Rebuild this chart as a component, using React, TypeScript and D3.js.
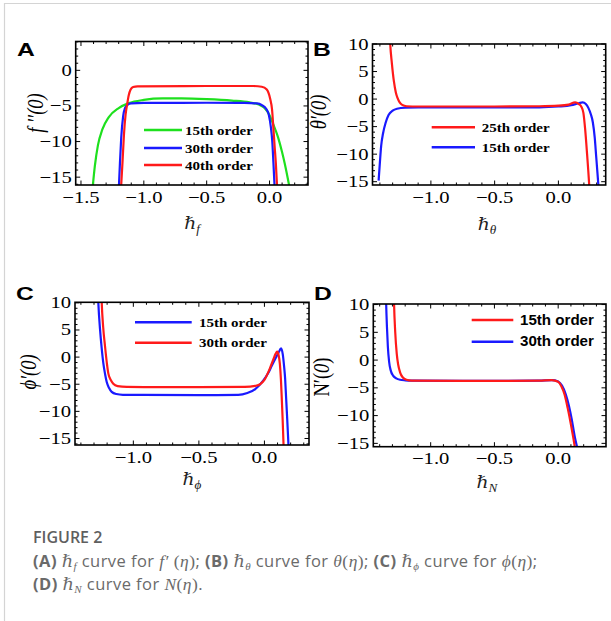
import React from "react";
import * as d3 from "d3";

const W = 611;
const H = 621;
const SX = 1.25;
const SERIF = "'Liberation Serif', 'DejaVu Serif', serif";
const SANS = "'Liberation Sans', Arial, sans-serif";

type Pt = [number, number];

// ---------- Panel A ----------
const xTicksA = [-1.5, -1.0, -0.5, 0.0];
const xTickLabelsA = ["−1.5", "−1.0", "−0.5", "0.0"];
const yTicksA = [0, -5, -10, -15];
const yTickLabelsA = ["0", "−5", "−10", "−15"];
const legendA = ["15th order", "30th order", "40th order"];
const curveA15: Pt[] = [
  [-1.41, -17], [-1.39, -13.5], [-1.365, -10.5], [-1.33, -8.3], [-1.28, -6.6], [-1.2, -5.3],
  [-1.12, -4.6], [-1.0, -4.15], [-0.85, -3.95], [-0.7, -3.95], [-0.5, -4.05], [-0.3, -4.25],
  [-0.16, -4.5], [-0.08, -4.85], [-0.04, -5.3], [0.0, -6.3], [0.03, -7.6], [0.066, -9.3],
  [0.1, -11.5], [0.12, -13], [0.165, -17],
];
const curveA30: Pt[] = [
  [-1.2, -17], [-1.19, -13], [-1.18, -9.5], [-1.165, -6.5], [-1.15, -5.3], [-1.13, -4.85],
  [-1.1, -4.65], [-1.0, -4.58], [-0.5, -4.55], [-0.2, -4.58], [-0.1, -4.65], [-0.06, -4.9],
  [-0.027, -5.4], [-0.005, -6.3], [0.01, -7.9], [0.022, -10], [0.031, -13], [0.042, -17],
];
const curveA40: Pt[] = [
  [-1.183, -17], [-1.17, -13], [-1.158, -9], [-1.145, -6.2], [-1.133, -4.8], [-1.12, -3.5],
  [-1.105, -2.7], [-1.085, -2.35], [-1.05, -2.25], [-0.5, -2.2], [-0.13, -2.2], [-0.062, -2.3],
  [-0.022, -2.7], [0.005, -4.0], [0.02, -5.5], [0.031, -8.2], [0.041, -10.8], [0.05, -13],
  [0.062, -17],
];

// ---------- Panel B ----------
const xTicksB = [-1.0, -0.5, 0.0];
const xTickLabelsB = ["−1.0", "−0.5", "0.0"];
const yTicksB = [10, 5, 0, -5, -10, -15];
const yTickLabelsB = ["10", "5", "0", "−5", "−10", "−15"];
const legendB = ["25th order", "15th order"];
const curveB25: Pt[] = [
  [-1.325, 13], [-1.319, 10], [-1.306, 6.5], [-1.29, 3.2], [-1.275, 1.2], [-1.262, 0.2],
  [-1.245, -0.6], [-1.225, -1.05], [-1.19, -1.3], [-1.1, -1.35], [-0.5, -1.35], [-0.15, -1.3],
  [0.0, -1.2], [0.08, -1.0], [0.131, -0.6], [0.16, -0.9], [0.18, -1.4], [0.196, -2.5],
  [0.21, -5.5], [0.225, -10], [0.24, -15], [0.245, -17],
];
const curveB15: Pt[] = [
  [-1.41, -14.8], [-1.40, -11.5], [-1.39, -8.5], [-1.375, -6.2], [-1.355, -4.3], [-1.332, -2.9],
  [-1.30, -2.1], [-1.266, -1.75], [-1.2, -1.55], [-1.1, -1.5], [-0.5, -1.5], [-0.15, -1.5],
  [0.0, -1.35], [0.1, -1.1], [0.16, -0.75], [0.19, -0.6], [0.215, -0.9], [0.235, -1.6],
  [0.255, -2.8], [0.27, -4.2], [0.285, -7], [0.296, -10.3], [0.306, -13.3], [0.318, -17],
];

// ---------- Panel C ----------
const xTicksC = [-1.0, -0.5, 0.0];
const xTickLabelsC = ["−1.0", "−0.5", "0.0"];
const yTicksC = [10, 5, 0, -5, -10, -15];
const yTickLabelsC = ["10", "5", "0", "−5", "−10", "−15"];
const legendC = ["15th order", "30th order"];
const curveC15: Pt[] = [
  [-1.272, 13], [-1.267, 10], [-1.254, 5.1], [-1.242, 1.8], [-1.229, -1.1], [-1.215, -3.2],
  [-1.203, -4.6], [-1.185, -5.7], [-1.165, -6.4], [-1.13, -6.8], [-1.08, -6.95], [-0.5, -7.0],
  [-0.2, -6.95], [-0.13, -6.6], [-0.07, -5.9], [-0.008, -4.3], [0.03, -2.9], [0.056, -1.6],
  [0.085, -0.2], [0.107, 0.8], [0.127, 1.6], [0.14, 0.5], [0.15, -1.7], [0.158, -4],
  [0.165, -7.3], [0.174, -11.5], [0.185, -17],
];
const curveC30: Pt[] = [
  [-1.245, 13], [-1.241, 10], [-1.23, 5.5], [-1.216, 2], [-1.2, -1.5], [-1.191, -3],
  [-1.17, -4.3], [-1.153, -4.9], [-1.12, -5.35], [-1.05, -5.5], [-0.5, -5.55], [-0.15, -5.5],
  [-0.07, -5.3], [-0.033, -5.0], [0.0, -4.2], [0.043, -2.0], [0.07, -0.3], [0.085, 0.6],
  [0.097, 1.0], [0.108, 0.4], [0.118, -1.3], [0.126, -4.2], [0.133, -8], [0.139, -11.5],
  [0.147, -17],
];

// ---------- Panel D ----------
const xTicksD = [-1.0, -0.5, 0.0];
const xTickLabelsD = ["−1.0", "−0.5", "0.0"];
const yTicksD = [10, 5, 0, -5, -10, -15];
const yTickLabelsD = ["10", "5", "0", "−5", "−10", "−15"];
const legendD = ["15th order", "30th order"];
const curveD15: Pt[] = [
  [-1.29, 13], [-1.287, 10], [-1.278, 5], [-1.266, 1.1], [-1.255, -0.8], [-1.24, -2.2],
  [-1.22, -3.1], [-1.19, -3.55], [-1.15, -3.7], [-0.5, -3.75], [-0.15, -3.7], [-0.05, -3.6],
  [0.0, -3.9], [0.025, -4.7], [0.05, -6.2], [0.075, -8.7], [0.1, -11.6], [0.12, -14.2], [0.14, -17],
];
const curveD30: Pt[] = [
  [-1.352, 13], [-1.349, 10], [-1.343, 6], [-1.336, 2.5], [-1.326, -0.3], [-1.313, -1.9],
  [-1.295, -2.8], [-1.27, -3.3], [-1.24, -3.55], [-1.2, -3.65], [-1.15, -3.7], [-0.5, -3.75],
  [-0.15, -3.7], [-0.05, -3.6], [0.0, -3.85], [0.03, -4.6], [0.06, -6.2], [0.085, -8.3],
  [0.105, -10.5], [0.13, -13.8], [0.163, -17],
];

const RED = "#ff1a1a";
const BLUE = "#1a1aff";
const GREEN = "#1ee01e";

type Series = { data: Pt[]; color: string };

type PanelProps = {
  id: string;
  box: [number, number, number, number];
  xDomain: [number, number];
  yDomain: [number, number];
  xTicks: number[];
  xLabels: string[];
  yTicks: number[];
  yLabels: string[];
  series: Series[];
  legend: { names: string[]; colors: string[]; lx: [number, number]; ys: number[]; tx: number; sans?: boolean };
  letter: { x: number; y: number; t: string };
  yTitle: { x: number; y: number; node: React.ReactNode };
  xTitle: { x: number; y: number; sub: string; subItalic?: boolean };
};

function Panel(p: PanelProps) {
  const [x0, x1, y0, y1] = p.box;
  const x = d3.scaleLinear().domain(p.xDomain).range([x0, x1]);
  const y = d3.scaleLinear().domain(p.yDomain).range([y1, y0]);
  const line = d3
    .line<Pt>()
    .x((d) => x(d[0]))
    .y((d) => y(d[1]))
    .curve(d3.curveMonotoneX);

  const xMinor = d3
    .range(Math.ceil(p.xDomain[0] / 0.1), Math.floor(p.xDomain[1] / 0.1) + 1)
    .map((k) => k * 0.1)
    .filter((v) => !p.xTicks.some((t) => Math.abs(t - v) < 1e-6));
  const yMinor = d3
    .range(Math.ceil(p.yDomain[0]), Math.floor(p.yDomain[1]) + 1)
    .filter((v) => !p.yTicks.some((t) => Math.abs(t - v) < 1e-6));

  const MAJ = 4.5;
  const MIN = 2.5;
  const tickStroke = { stroke: "#000", strokeWidth: 1 };

  return (
    <g>
      <defs>
        <clipPath id={`clip-${p.id}`}>
          <rect x={x0} y={y0} width={x1 - x0} height={y1 - y0} />
        </clipPath>
      </defs>
      {p.xTicks.map((v, i) => (
        <g key={`xm${i}`}>
          <line x1={x(v)} x2={x(v)} y1={y1} y2={y1 - MAJ} {...tickStroke} />
          <line x1={x(v)} x2={x(v)} y1={y0} y2={y0 + MAJ} {...tickStroke} />
        </g>
      ))}
      {xMinor.map((v, i) => (
        <g key={`xn${i}`}>
          <line x1={x(v)} x2={x(v)} y1={y1} y2={y1 - MIN} {...tickStroke} />
          <line x1={x(v)} x2={x(v)} y1={y0} y2={y0 + MIN} {...tickStroke} />
        </g>
      ))}
      {p.yTicks.map((v, i) => (
        <g key={`ym${i}`}>
          <line x1={x0} x2={x0 + MAJ} y1={y(v)} y2={y(v)} {...tickStroke} />
          <line x1={x1} x2={x1 - MAJ} y1={y(v)} y2={y(v)} {...tickStroke} />
        </g>
      ))}
      {yMinor.map((v, i) => (
        <g key={`yn${i}`}>
          <line x1={x0} x2={x0 + MIN} y1={y(v)} y2={y(v)} {...tickStroke} />
          <line x1={x1} x2={x1 - MIN} y1={y(v)} y2={y(v)} {...tickStroke} />
        </g>
      ))}
      <g clipPath={`url(#clip-${p.id})`}>
        {p.series.map((s, i) => (
          <path key={i} d={line(s.data) || ""} fill="none" stroke={s.color} strokeWidth={2.2} strokeLinejoin="round" />
        ))}
      </g>
      <rect x={x0} y={y0} width={x1 - x0} height={y1 - y0} fill="none" stroke="#000" strokeWidth={1.6} />
      {p.xTicks.map((v, i) => (
        <text
          key={`xl${i}`}
          transform={`translate(${x(v)},${y1 + 17.5}) scale(${SX},1)`}
          textAnchor="middle"
          fontFamily={SERIF}
          fontSize={16.5}
          fill="#000"
        >
          {p.xLabels[i]}
        </text>
      ))}
      {p.yTicks.map((v, i) => (
        <text
          key={`yl${i}`}
          transform={`translate(${x0 - 4},${y(v) + 5.5}) scale(${SX},1)`}
          textAnchor="end"
          fontFamily={SERIF}
          fontSize={16.5}
          fill="#000"
        >
          {p.yLabels[i]}
        </text>
      ))}
      {p.legend.names.map((n, i) => (
        <g key={`lg${i}`}>
          <line
            x1={p.legend.lx[0]}
            x2={p.legend.lx[1]}
            y1={p.legend.ys[i]}
            y2={p.legend.ys[i]}
            stroke={p.legend.colors[i]}
            strokeWidth={2.5}
          />
          <text
            transform={`translate(${p.legend.tx},${p.legend.ys[i] + 4.5}) scale(${p.legend.sans ? 1.08 : SX},1)`}
            fontFamily={p.legend.sans ? SANS : SERIF}
            fontWeight="bold"
            fontSize={p.legend.sans ? 14 : 12}
            fill="#000"
          >
            {n}
          </text>
        </g>
      ))}
      <text
        transform={`translate(${p.letter.x},${p.letter.y}) scale(1.3,1)`}
        fontFamily={SANS}
        fontWeight="bold"
        fontSize={19}
        fill="#000"
      >
        {p.letter.t}
      </text>
      <text
        transform={`translate(${p.yTitle.x},${p.yTitle.y}) scale(${SX},1) rotate(-90)`}
        textAnchor="middle"
        dy="0.35em"
        fontFamily={SERIF}
        fontSize={18.5}
        fill="#000"
      >
        {p.yTitle.node}
      </text>
      <text
        transform={`translate(${p.xTitle.x},${p.xTitle.y}) scale(1.1,1)`}
        textAnchor="middle"
        fontFamily={SERIF}
        fontSize={17}
        fill="#222"
      >
        <tspan fontStyle="italic">ℏ</tspan>
        <tspan fontSize={12} dy={4} fontStyle={p.xTitle.subItalic === false ? "normal" : "italic"}>
          {p.xTitle.sub}
        </tspan>
      </text>
    </g>
  );
}

export default function App() {
  const captionMath = { fontFamily: SERIF, fontStyle: "italic" as const, fontSize: 17.5 };
  const sub = { fontFamily: SERIF, fontStyle: "italic" as const, fontSize: 11 };
  return (
    <svg
      width={W}
      height={H}
      style={{ position: "absolute", left: 0, top: 0, background: "#fff" }}
      viewBox={`0 0 ${W} ${H}`}
    >
      <rect x={0} y={0} width={W} height={H} fill="#fff" />
      <line x1={4.5} x2={4.5} y1={3} y2={H} stroke="#d4d4d4" strokeWidth={1.2} />
      <line x1={4} x2={W} y1={3.5} y2={3.5} stroke="#d4d4d4" strokeWidth={1.2} />

      <Panel
        id="A"
        box={[75.7, 308, 41.5, 185]}
        xDomain={[-1.542, 0.306]}
        yDomain={[-16.1, 4.05]}
        xTicks={xTicksA}
        xLabels={xTickLabelsA}
        yTicks={yTicksA}
        yLabels={yTickLabelsA}
        series={[
          { data: curveA15, color: GREEN },
          { data: curveA30, color: BLUE },
          { data: curveA40, color: RED },
        ]}
        legend={{ names: legendA, colors: [GREEN, BLUE, RED], lx: [144, 182], ys: [130, 148, 165], tx: 185 }}
        letter={{ x: 17, y: 56, t: "A" }}
        yTitle={{ x: 35, y: 113, node: <tspan fontStyle="italic">f ′′(0)</tspan> }}
        xTitle={{ x: 192, y: 229, sub: "f" }}
      />
      <Panel
        id="B"
        box={[372.5, 605.7, 44, 185]}
        xDomain={[-1.458, 0.371]}
        yDomain={[-15.6, 10]}
        xTicks={xTicksB}
        xLabels={xTickLabelsB}
        yTicks={yTicksB}
        yLabels={yTickLabelsB}
        series={[
          { data: curveB15, color: BLUE },
          { data: curveB25, color: RED },
        ]}
        legend={{ names: legendB, colors: [RED, BLUE], lx: [431.7, 475], ys: [127.3, 147.3], tx: 481.7 }}
        letter={{ x: 313, y: 56, t: "B" }}
        yTitle={{ x: 318, y: 112, node: <tspan fontStyle="italic">θ′(0)</tspan> }}
        xTitle={{ x: 487, y: 230, sub: "θ" }}
      />
      <Panel
        id="C"
        box={[75, 309, 302.3, 445]}
        xDomain={[-1.445, 0.34]}
        yDomain={[-16.2, 10.1]}
        xTicks={xTicksC}
        xLabels={xTickLabelsC}
        yTicks={yTicksC}
        yLabels={yTickLabelsC}
        series={[
          { data: curveC15, color: BLUE },
          { data: curveC30, color: RED },
        ]}
        legend={{ names: legendC, colors: [BLUE, RED], lx: [135, 191.7], ys: [322.3, 342.7], tx: 199 }}
        letter={{ x: 16, y: 300, t: "C" }}
        yTitle={{ x: 28, y: 372, node: <tspan fontStyle="italic">ϕ′(0)</tspan> }}
        xTitle={{ x: 192, y: 485, sub: "ϕ" }}
      />
      <Panel
        id="D"
        box={[373.3, 606, 304, 446.7]}
        xDomain={[-1.45, 0.375]}
        yDomain={[-15.6, 10.1]}
        xTicks={xTicksD}
        xLabels={xTickLabelsD}
        yTicks={yTicksD}
        yLabels={yTickLabelsD}
        series={[
          { data: curveD30, color: BLUE },
          { data: curveD15, color: RED },
        ]}
        legend={{ names: legendD, colors: [RED, BLUE], lx: [471.7, 513.3], ys: [320, 341.7], tx: 520, sans: true }}
        letter={{ x: 314, y: 300, t: "D" }}
        yTitle={{
          x: 321,
          y: 377,
          node: (
            <>
              <tspan>N′(</tspan>
              <tspan fontStyle="italic">0</tspan>
              <tspan>)</tspan>
            </>
          ),
        }}
        xTitle={{ x: 487, y: 488, sub: "N", subItalic: true }}
      />

      {/* caption */}
      <text x={33} y={543} fontFamily="'Open Sans', sans-serif" fontSize={16} fontWeight={600} fill="#5f5f5f">
        FIGURE 2
      </text>
      <text x={33} y={567} fontFamily="'Open Sans', sans-serif" fontSize={16.5} letterSpacing={0.45} fill="#6a6a6a">
        <tspan fontWeight={700}>(A)</tspan>
        <tspan {...captionMath}> ℏ</tspan>
        <tspan {...sub} dy={3}>f</tspan>
        <tspan dy={-3}> curve for </tspan>
        <tspan {...captionMath}>f′ </tspan>
        <tspan {...captionMath} fontStyle="normal">(</tspan>
        <tspan {...captionMath}>η</tspan>
        <tspan {...captionMath} fontStyle="normal">)</tspan>
        <tspan>; </tspan>
        <tspan fontWeight={700}>(B)</tspan>
        <tspan {...captionMath}> ℏ</tspan>
        <tspan {...sub} dy={3}>θ</tspan>
        <tspan dy={-3}> curve for </tspan>
        <tspan {...captionMath}>θ</tspan>
        <tspan {...captionMath} fontStyle="normal">(</tspan>
        <tspan {...captionMath}>η</tspan>
        <tspan {...captionMath} fontStyle="normal">)</tspan>
        <tspan>; </tspan>
        <tspan fontWeight={700}>(C)</tspan>
        <tspan {...captionMath}> ℏ</tspan>
        <tspan {...sub} dy={3}>ϕ</tspan>
        <tspan dy={-3}> curve for </tspan>
        <tspan {...captionMath}>ϕ</tspan>
        <tspan {...captionMath} fontStyle="normal">(</tspan>
        <tspan {...captionMath}>η</tspan>
        <tspan {...captionMath} fontStyle="normal">)</tspan>
        <tspan>;</tspan>
      </text>
      <text x={33} y={590} fontFamily="'Open Sans', sans-serif" fontSize={16.5} letterSpacing={0.45} fill="#6a6a6a">
        <tspan fontWeight={700}>(D)</tspan>
        <tspan {...captionMath}> ℏ</tspan>
        <tspan {...sub} dy={3}>N</tspan>
        <tspan dy={-3}> curve for </tspan>
        <tspan {...captionMath}>N</tspan>
        <tspan {...captionMath} fontStyle="normal">(</tspan>
        <tspan {...captionMath}>η</tspan>
        <tspan {...captionMath} fontStyle="normal">)</tspan>
        <tspan>.</tspan>
      </text>
    </svg>
  );
}
